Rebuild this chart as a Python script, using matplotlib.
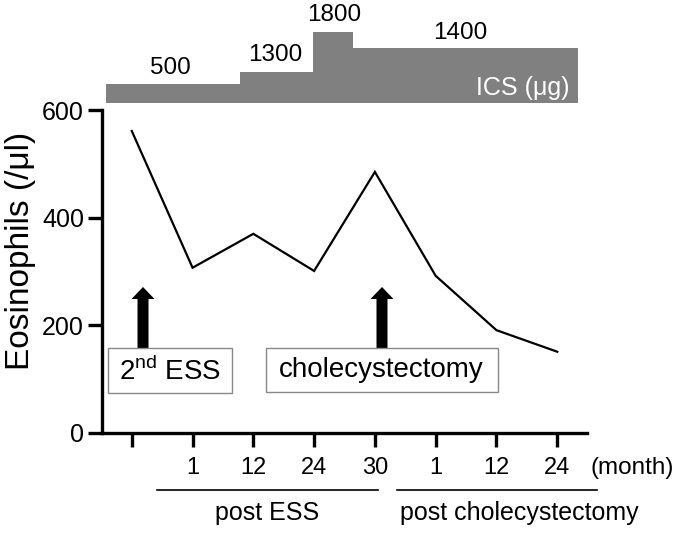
import matplotlib
matplotlib.use('Agg')
import matplotlib.pyplot as plt
from matplotlib.patches import FancyArrow, Rectangle

plt.rcParams['font.family'] = ['Liberation Sans', 'DejaVu Sans']
plt.rcParams['mathtext.fontset'] = 'custom'
plt.rcParams['mathtext.rm'] = 'Liberation Sans'

# ── Data ────────────────────────────────────────────────────────────────────
visit_labels = ['', '1', '12', '24', '30', '1', '12', '24']
eosinophils = [561, 307, 370, 301, 485, 292, 191, 151]
ics_doses = ['500', '1300', '1800', '1400']

# ── Layout (pixels in a 680x533 canvas) ──────────────────────────────────────
W, H = 680, 533
ics_edges = [106, 240, 313, 353, 578]      # step boundaries of the ICS band
ics_tops = [84, 72, 32, 48]                # drawn top of each step
ics_base = 103
ics_label_pos = [(170, 68), (275, 55), (334, 15), (460, 33)]

fig = plt.figure(figsize=(6.8, 5.33), dpi=100)

# main axes
ax = fig.add_axes([102 / W, 100 / H, (587 - 102) / W, 323 / H])
ax.plot(range(len(eosinophils)), eosinophils, color='black', linewidth=1.6,
        solid_joinstyle='miter', clip_on=False)
ax.set_xlim(-0.49, 7.49)
ax.set_ylim(0, 600)
ax.set_yticks([0, 200, 400, 600])
ax.set_xticks(range(len(visit_labels)))
ax.set_xticklabels(visit_labels)
for s in ['top', 'right']:
    ax.spines[s].set_visible(False)
for s in ['left', 'bottom']:
    ax.spines[s].set_linewidth(2.4)
ax.tick_params(axis='both', width=2.4, length=10, color='black')
ax.tick_params(axis='y', labelsize=18, pad=3)
ax.tick_params(axis='x', labelsize=17, pad=7)

# overlay in pixel coordinates
ov = fig.add_axes([0, 0, 1, 1], zorder=5)
ov.set_xlim(0, W)
ov.set_ylim(H, 0)
ov.axis('off')
ov.patch.set_visible(False)

# ICS band
lefts = ics_edges[:-1]
widths = [b - a for a, b in zip(ics_edges[:-1], ics_edges[1:])]
heights = [t - ics_base for t in ics_tops]
ov.bar(lefts, heights, width=widths, bottom=ics_base, align='edge',
       color='#808080', linewidth=0)
for lab, (x, y) in zip(ics_doses, ics_label_pos):
    ov.text(x, y, lab, fontsize=17.5, ha='center', va='center')
ov.text(570, 88, 'ICS (μg)', fontsize=18, color='white', ha='right', va='center')

# y label
fig.text(21 / W, 1 - 251 / H, 'Eosinophils (/μl)', rotation=90,
         fontsize=24, ha='center', va='center')

# event arrows and boxes
for x in [143, 382]:
    ov.add_patch(FancyArrow(x, 348, 0, -61, width=11, head_width=23,
                            head_length=12, length_includes_head=True,
                            color='black', linewidth=0))
ov.add_patch(Rectangle((108, 348), 124, 45, fill=False, edgecolor='#888888',
                       linewidth=1))
ov.add_patch(Rectangle((266, 348), 232, 44, fill=False, edgecolor='#888888',
                       linewidth=1))
ov.text(170, 371, '2$^{\\mathrm{nd}}$ ESS', fontsize=20, ha='center', va='center')
ov.text(381, 370, 'cholecystectomy', fontsize=20, ha='center', va='center')

# month unit and period brackets
ov.text(632, 474, '(month)', fontsize=17.5, ha='center', va='baseline')
ov.plot([157, 378], [490, 490], color='black', linewidth=1.2)
ov.plot([397, 597], [490, 490], color='black', linewidth=1.2)
ov.text(267, 520, 'post ESS', fontsize=18, ha='center', va='baseline')
ov.text(519, 520, 'post cholecystectomy', fontsize=18, ha='center', va='baseline')

fig.savefig('out.png', dpi=100)
